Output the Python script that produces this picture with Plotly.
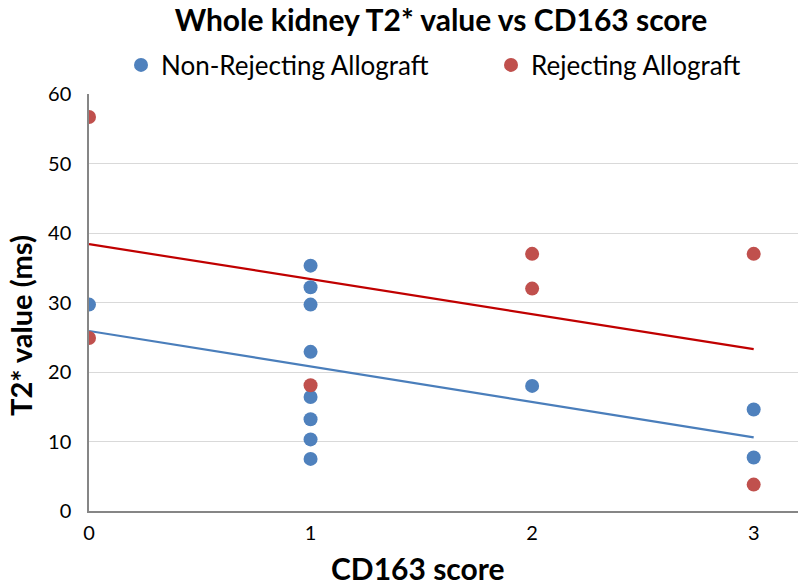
import plotly.graph_objects as go

# Data
nonrej_x = [0, 1, 1, 1, 1, 1, 1, 1, 1, 2, 3, 3]
nonrej_y = [29.7, 35.3, 32.2, 29.7, 22.9, 16.4, 13.2, 10.3, 7.5, 18.0, 14.6, 7.7]
rej_x = [0, 0, 1, 2, 2, 3, 3]
rej_y = [56.7, 24.9, 18.1, 37.0, 32.0, 37.0, 3.8]

# Linear trendline end points
trend_x = [0, 3]
nonrej_trend_y = [25.9, 10.6]
rej_trend_y = [38.4, 23.3]

x_ticks = [0, 1, 2, 3]
y_ticks = [0, 10, 20, 30, 40, 50, 60]

BLUE = "#4F81BD"
RED = "#C0504D"
FONT = "Lato"

W, H = 800, 585
# plot area in page pixels
PL, PR, PT, PB = 89, 798, 94, 511


def px_x(page_x):
    return (page_x - PL) / (PR - PL)


def px_y(page_y):
    return (PB - page_y) / (PB - PT)


fig = go.Figure()
fig.add_trace(go.Scatter(x=trend_x, y=nonrej_trend_y, mode="lines",
                         line=dict(color="#4A7EBB", width=2.2), showlegend=False,
                         hoverinfo="skip"))
fig.add_trace(go.Scatter(x=trend_x, y=rej_trend_y, mode="lines",
                         line=dict(color="#C00000", width=2.2), showlegend=False,
                         hoverinfo="skip"))
fig.add_trace(go.Scatter(x=nonrej_x, y=nonrej_y, mode="markers", name="Non-Rejecting Allograft",
                         marker=dict(color=BLUE, size=14, line=dict(width=0)), legend="legend"))
fig.add_trace(go.Scatter(x=rej_x, y=rej_y, mode="markers", name="Rejecting Allograft",
                         marker=dict(color=RED, size=14, line=dict(width=0)), legend="legend2"))

legend_common = dict(orientation="h", xanchor="left", y=px_y(65), yanchor="middle",
                     font=dict(size=26, family=FONT, color="#000000"),
                     bgcolor="rgba(0,0,0,0)")

fig.update_layout(
    width=W, height=H,
    margin=dict(l=PL, r=W - PR, t=PT, b=H - PB, autoexpand=False),
    paper_bgcolor="white", plot_bgcolor="white",
    font=dict(family=FONT, color="#000000"),
    title=dict(text="<b>Whole kidney T2* value vs CD163 score</b>",
               x=441 / W, xanchor="center", xref="container",
               y=1 - 20 / H, yanchor="middle", yref="container",
               font=dict(size=30, family=FONT, color="#000000")),
    legend=dict(x=px_x(121), **legend_common),
    legend2=dict(x=px_x(491), **legend_common),
    xaxis=dict(range=[0, 3.2], tickvals=x_ticks, ticktext=[str(v) for v in x_ticks],
               showgrid=False, zeroline=False, showline=True, linecolor="#868686",
               linewidth=1.5, ticks="", automargin=False, ticklabelstandoff=3,
               tickfont=dict(size=20, family=FONT, color="#000000")),
    yaxis=dict(range=[0, 60], tickvals=y_ticks, showgrid=True, gridcolor="#D9D9D9",
               gridwidth=1.2, zeroline=False, showline=True, linecolor="#868686",
               linewidth=1.5, ticks="", automargin=False, ticklabelstandoff=12,
               tickfont=dict(size=20, family=FONT, color="#000000")),
    annotations=[
        dict(text="<b>CD163 score</b>", x=px_x(418), y=px_y(568), xref="paper", yref="paper",
             xanchor="center", yanchor="middle", showarrow=False,
             font=dict(size=30, family=FONT, color="#000000")),
        dict(text="<b>T2* value (ms)</b>", x=px_x(20), y=px_y(326), xref="paper", yref="paper",
             xanchor="center", yanchor="middle", showarrow=False, textangle=-90,
             font=dict(size=29, family=FONT, color="#000000")),
    ],
)

# remove the default 8px body margin so the 800x585 figure fills the window exactly
fig.write_html("out.html",
               config={"displayModeBar": False},
               post_script="document.body.style.margin='0';document.body.style.overflow='hidden';")
